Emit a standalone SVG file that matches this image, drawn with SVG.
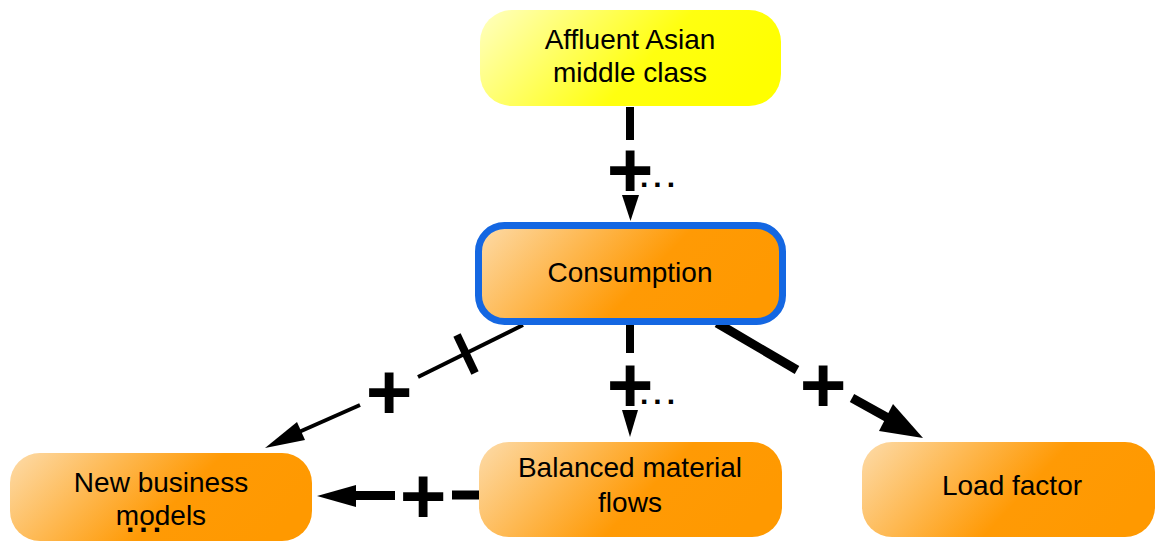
<svg xmlns="http://www.w3.org/2000/svg" width="1156" height="544" viewBox="0 0 1156 544">
<defs>
<linearGradient id="gOr" x1="0" y1="0.2" x2="1" y2="0.5">
<stop offset="0" stop-color="#fdd69c"/>
<stop offset="0.6" stop-color="#ff9a05"/>
<stop offset="1" stop-color="#ff9900"/>
</linearGradient>
<linearGradient id="gYe" x1="0" y1="0.2" x2="1" y2="0.5">
<stop offset="0" stop-color="#ffffb3"/>
<stop offset="0.6" stop-color="#ffff10"/>
<stop offset="1" stop-color="#ffff00"/>
</linearGradient>
<style>
.lbl{font-family:"Liberation Sans",Arial,sans-serif;font-size:28px;fill:#000;text-anchor:middle}
.plus{font-family:"Liberation Sans",Arial,sans-serif;font-weight:bold;font-size:80px;fill:#000;text-anchor:middle}
.dots{font-family:"Liberation Sans",Arial,sans-serif;font-weight:bold;font-size:30px;fill:#000;letter-spacing:5px}
.ln{stroke:#000;fill:none;stroke-linecap:butt}
.ah{fill:#000}
</style>
</defs>
<g id="connectors">
<g id="e1">
<line class="ln" x1="630" y1="107" x2="630" y2="140" stroke-width="8"/>
<text class="plus" x="630" y="197">+</text>
<text class="dots" x="640" y="187">...</text>
<polygon class="ah" points="622,195 639,195 630.5,221"/>
</g>
<g id="e2">
<line class="ln" x1="630" y1="325" x2="630" y2="353" stroke-width="8"/>
<text class="plus" x="630" y="412">+</text>
<text class="dots" x="640" y="404">...</text>
<polygon class="ah" points="622,410 638,410 630,437"/>
</g>
<g id="e3">
<line class="ln" x1="523" y1="325" x2="418" y2="377" stroke-width="4"/>
<line class="ln" x1="457" y1="335" x2="475" y2="373" stroke-width="8"/>
<text class="plus" x="389" y="419">+</text>
<line class="ln" x1="360" y1="405" x2="299" y2="432" stroke-width="4"/>
<polygon class="ah" points="265,448 305,440 297,422"/>
</g>
<g id="e4">
<line class="ln" x1="717" y1="323" x2="797" y2="370" stroke-width="9"/>
<text class="plus" x="823" y="412">+</text>
<line class="ln" x1="852" y1="398" x2="888" y2="418" stroke-width="9"/>
<polygon class="ah" points="923,438 879,431 893,404"/>
</g>
<g id="e5">
<line class="ln" x1="480" y1="495" x2="452" y2="495" stroke-width="9"/>
<text class="plus" x="423" y="523">+</text>
<line class="ln" x1="395" y1="495.5" x2="352" y2="495.5" stroke-width="9"/>
<polygon class="ah" points="317,496 356,485 356,507"/>
</g>
</g>
<g id="n-affluent">
<rect x="480" y="10" width="301" height="96" rx="32" fill="url(#gYe)"/>
<text class="lbl" x="630" y="49">Affluent Asian</text>
<text class="lbl" x="630" y="82">middle class</text>
</g>
<g id="n-consumption">
<rect x="478.5" y="225.5" width="304" height="96" rx="26" fill="url(#gOr)" stroke="#1467e2" stroke-width="7"/>
<text class="lbl" x="630" y="282">Consumption</text>
</g>
<g id="n-newbiz">
<rect x="10" y="453" width="302" height="88" rx="30" fill="url(#gOr)"/>
<text class="lbl" x="161" y="492">New business</text>
<text class="lbl" x="161" y="525">models</text>
<text class="dots" x="126" y="532">...</text>
</g>
<g id="n-balanced">
<rect x="479" y="442" width="303" height="95" rx="30" fill="url(#gOr)"/>
<text class="lbl" x="630" y="477">Balanced material</text>
<text class="lbl" x="630" y="512">flows</text>
</g>
<g id="n-load">
<rect x="862" y="442" width="293" height="95" rx="30" fill="url(#gOr)"/>
<text class="lbl" x="1012" y="495">Load factor</text>
</g>
</svg>
